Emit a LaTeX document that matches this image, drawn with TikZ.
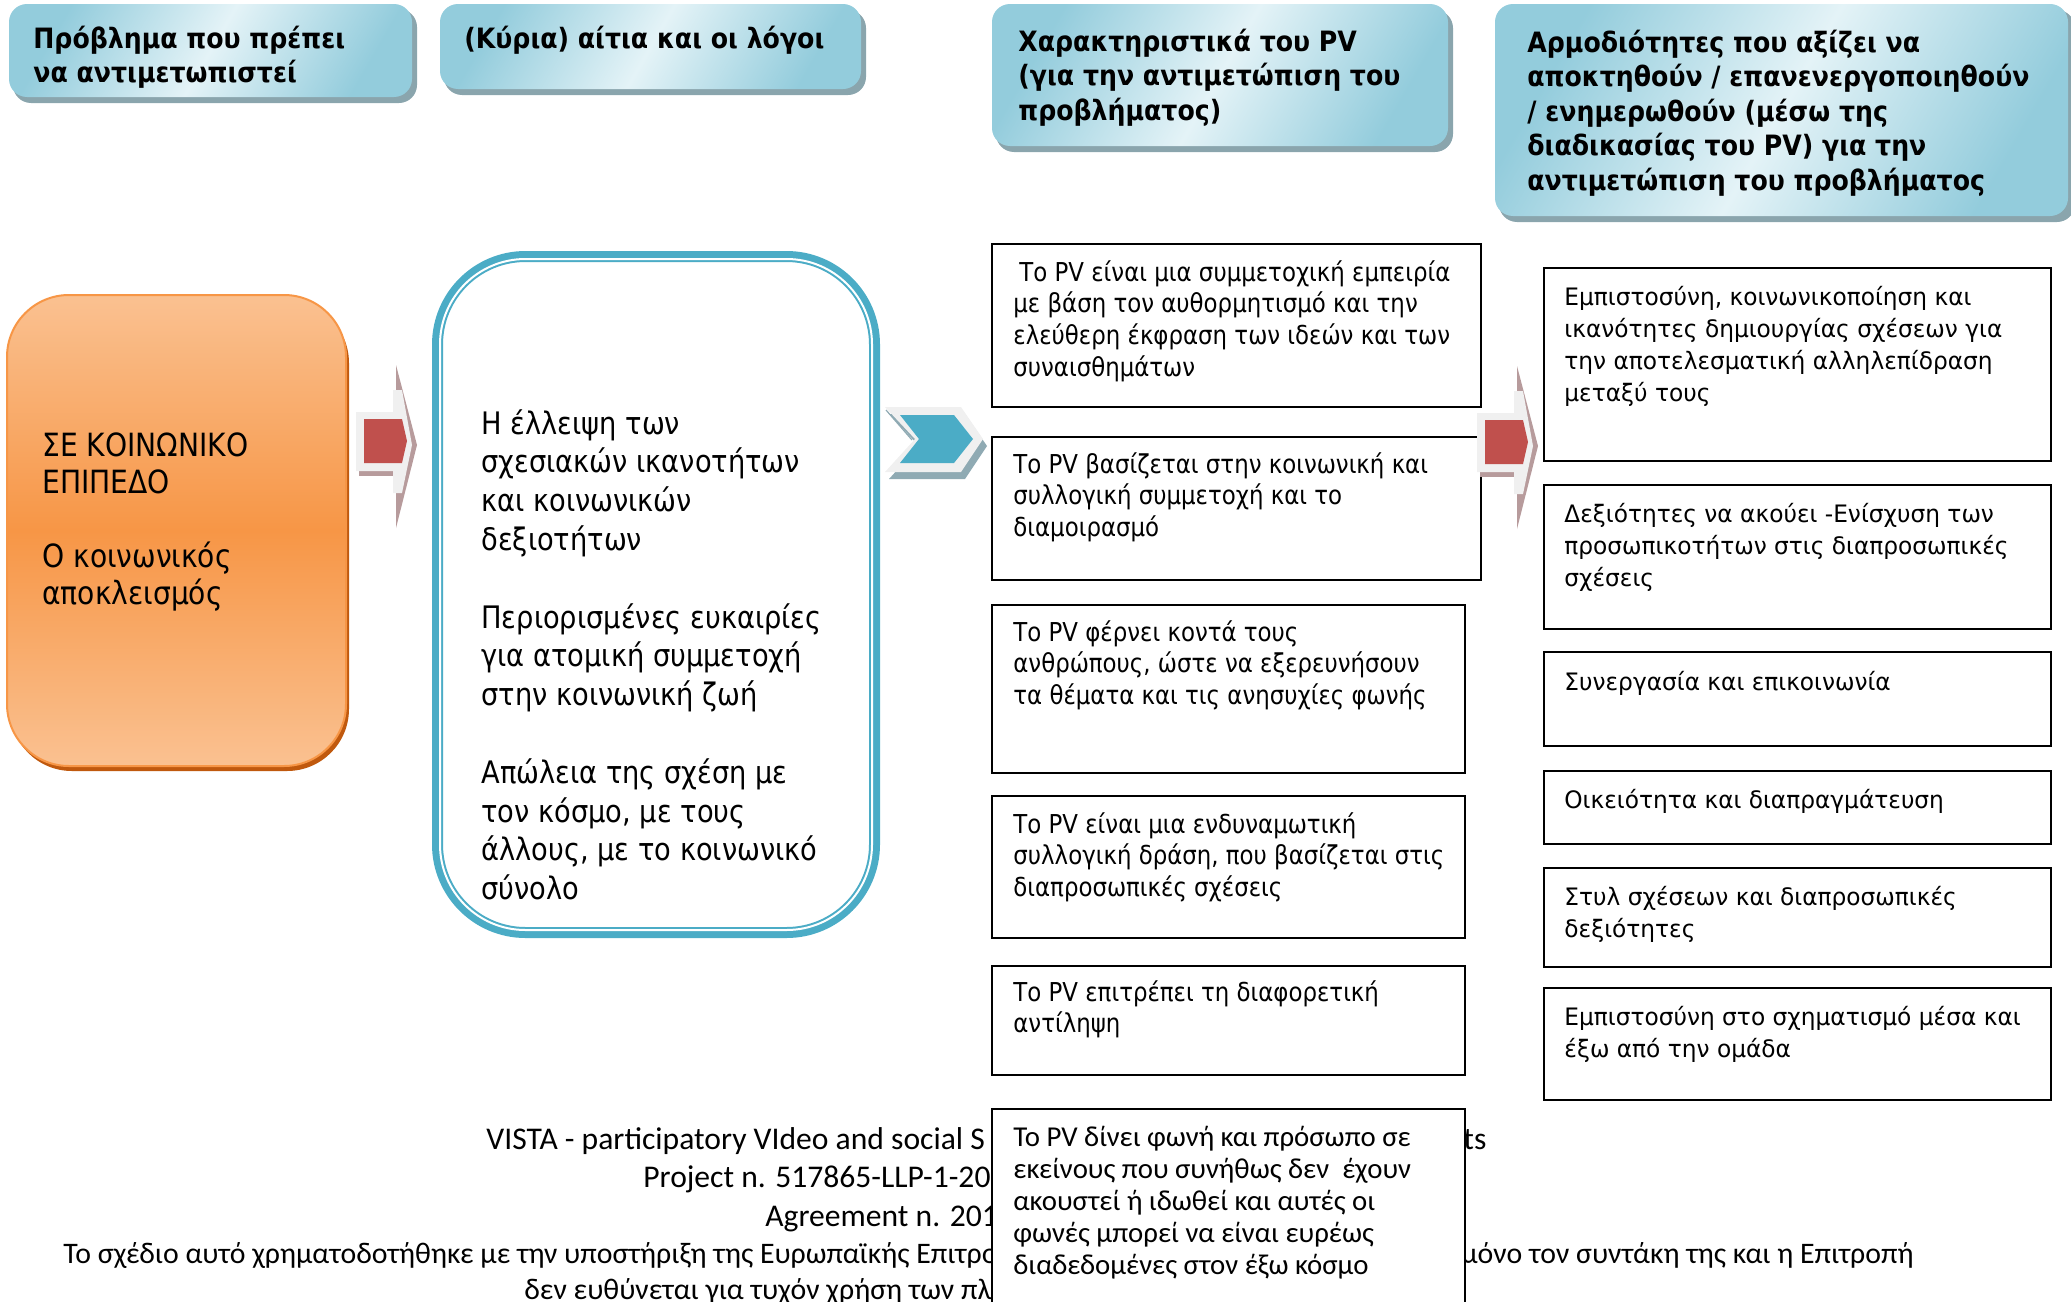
\documentclass[tikz,border=0pt]{standalone}
\usepackage{fontspec}
\setmainfont{DejaVu Sans}[FakeStretch=0.88]
\newfontfamily\hdfont{DejaVu Sans}[FakeStretch=0.9]
\newfontfamily\rcfont{DejaVu Sans}[FakeStretch=0.97]
\newfontfamily\cbfont{Carlito}
\newcommand\mlines[1]{\begin{tabular}[t]{@{}l@{}}#1\end{tabular}}
\definecolor{hdA}{HTML}{93CCDC}
\definecolor{hdB}{HTML}{E4F3F7}
\definecolor{hdS}{HTML}{8AA5AD}
\definecolor{orL}{HTML}{FAC191}
\definecolor{orD}{HTML}{F79646}
\definecolor{orS}{HTML}{C0590E}
\definecolor{teal}{HTML}{4BACC6}
\definecolor{arGray}{HTML}{F0F0F0}
\definecolor{arBrown}{HTML}{B79B9C}
\definecolor{arRed}{HTML}{C0504D}
\definecolor{chShadow}{HTML}{8FAAB3}
\begin{document}
\begin{tikzpicture}[x=0.5pt,y=-0.5pt,
  hdshadow/.style={fill=hdS, rounded corners=9pt},
  hdbox/.style={rounded corners=9pt, left color=hdA, right color=hdA, middle color=hdB, shading angle=60},
  hdtext/.style={anchor=base west, inner sep=0pt, font=\hdfont\bfseries\fontsize{14}{17.3}\selectfont},
  bigtext/.style={anchor=base west, inner sep=0pt, font=\fontsize{15.5}{19.4}\selectfont},
  pvbox/.style={draw=black, line width=1.2pt, fill=white},
  pvtext/.style={anchor=base west, inner sep=0pt, font=\fontsize{13}{15.85}\selectfont},
  pvcal/.style={anchor=base west, inner sep=0pt, font=\cbfont\fontsize{14.4}{16}\selectfont},
  rctext/.style={anchor=base west, inner sep=0pt, font=\rcfont\fontsize{12}{16}\selectfont},
  footl/.style={anchor=base west, inner sep=0pt, font=\cbfont\fontsize{15.8}{19.5}\selectfont},
  footg/.style={anchor=base west, inner sep=0pt, font=\cbfont\fontsize{14.9}{19.5}\selectfont}
]
\useasboundingbox (0,0) rectangle (2071,1301);

% ---------- header boxes ----------
\fill[hdshadow] (13,9) rectangle (417,103);
\shade[hdbox] (9,4) rectangle (412,97);
\fill[hdshadow] (444,10) rectangle (866,95);
\shade[hdbox] (440,4) rectangle (861,89);
\fill[hdshadow] (996,10) rectangle (1453,152);
\shade[hdbox] (992,4) rectangle (1448,146);
\fill[hdshadow] (1499,10) rectangle (2075,222);
\shade[hdbox] (1495,4) rectangle (2068,216);

\node[hdtext] (h1) at (33,48) {\mlines{Πρόβλημα που πρέπει\\να αντιμετωπιστεί}};
\node[hdtext] (h2) at (464,48) {(Κύρια) αίτια και οι λόγοι};
\node[hdtext] (h3) at (1018,51) {\mlines{Χαρακτηριστικά του PV\\(για την αντιμετώπιση του\\προβλήματος)}};
\node[hdtext] (h4) at (1527,52) {\mlines{Αρμοδιότητες που αξίζει να\\αποκτηθούν / επανενεργοποιηθούν\\/ ενημερωθούν (μέσω της\\διαδικασίας του PV) για την\\αντιμετώπιση του προβλήματος}};

% ---------- orange box ----------
\fill[orS, rounded corners=31pt] (10,301) rectangle (349,771);
\path[rounded corners=31pt, top color=orL, bottom color=orL, middle color=orD, draw=orD, line width=1pt] (7,295) rectangle (346,766);
\node[bigtext, font=\fontsize{16}{18.5}\selectfont] (orange) at (42,456) {\mlines{ΣΕ ΚΟΙΝΩΝΙΚΟ\\ΕΠΙΠΕΔΟ\\[18.5pt]Ο κοινωνικός\\αποκλεισμός}};

% ---------- red arrow 1 ----------
\fill[arBrown] (396,365) -- (417,445) -- (396,528) -- cycle;
\fill[arBrown] (359,470) rectangle (393,476);
\fill[arGray] (356,412) -- (393,412) -- (393,390) -- (402,390) -- (412,445) -- (402,493) -- (393,493) -- (393,471) -- (356,471) -- cycle;
\fill[arRed] (364,419) -- (402,419) -- (407,441) -- (402,463) -- (364,463) -- cycle;

% ---------- middle box ----------
\draw[teal, line width=5.5pt, rounded corners=44pt, fill=white] (437.5,256.5) rectangle (874.5,932.5);
\draw[white, line width=1pt, rounded corners=42.7pt] (440,259) rectangle (872,930);
\node[bigtext] (causes) at (481,434) {\mlines{Η έλλειψη των\\σχεσιακών ικανοτήτων\\και κοινωνικών\\δεξιοτήτων\\[19.4pt]Περιορισμένες ευκαιρίες\\για ατομική συμμετοχή\\στην κοινωνική ζωή\\[19.4pt]Απώλεια της σχέση με\\τον κόσμο, με τους\\άλλους, με το κοινωνικό\\σύνολο}};

% ---------- chevron ----------
\fill[chShadow] (889,414) -- (965,414) -- (987,446) -- (965,479) -- (889,479) -- (919,446) -- cycle;
\fill[arGray] (885,407) -- (961,407) -- (983,439) -- (961,472) -- (885,472) -- (915,439) -- cycle;
\draw[chShadow, line width=0.6pt] (886,410) -- (912,440);
\fill[teal] (900,415) -- (954,415) -- (973,439) -- (954,463) -- (900,463) -- (919,439) -- cycle;

% ---------- footer (partly hidden) ----------
\node[footl] (f1) at (486,1149) {VISTA - participatory VIdeo and social S};
\node[footl] (f1b) at (1463,1149) {ts};
\node[footl] (f2) at (643,1187) {Project n. 517865-LLP-1-20};
\node[footl] (f3) at (765,1226) {Agreement n. 201};
\node[footg] (f4) at (63,1263) {Το σχέδιο αυτό χρηματοδοτήθηκε με την υποστήριξη της Ευρωπαϊκής Επιτρο};
\node[footg] (f4b) at (1461,1263) {μόνο τον συντάκη της και η Επιτροπή};
\node[footg] (f5) at (524,1299) {δεν ευθύνεται για τυχόν χρήση των πλη};

% ---------- PV boxes ----------
\path[pvbox] (992,244) rectangle (1481,407);
\path[pvbox] (992,437) rectangle (1481,580);
\path[pvbox] (992,605) rectangle (1465,773);
\path[pvbox] (992,796) rectangle (1465,938);
\path[pvbox] (992,966) rectangle (1465,1075);
\path[pvbox] (992,1109) rectangle (1465,1320);
\node[pvtext] (p1) at (1013,281) {\mlines{\hspace{3pt}Το PV είναι μια συμμετοχική εμπειρία\\με βάση τον αυθορμητισμό και την\\ελεύθερη έκφραση των ιδεών και των\\συναισθημάτων}};
\node[pvtext] (p2) at (1013,473) {\mlines{Το PV βασίζεται στην κοινωνική και\\συλλογική συμμετοχή και το\\διαμοιρασμό}};
\node[pvtext] (p3) at (1013,641) {\mlines{Το PV φέρνει κοντά τους\\ανθρώπους, ώστε να εξερευνήσουν\\τα θέματα και τις ανησυχίες φωνής}};
\node[pvtext] (p4) at (1013,833) {\mlines{Το PV είναι μια ενδυναμωτική\\συλλογική δράση, που βασίζεται στις\\διαπροσωπικές σχέσεις}};
\node[pvtext] (p5) at (1013,1001) {\mlines{Το PV επιτρέπει τη διαφορετική\\αντίληψη}};
\node[pvcal] (p6) at (1013,1146) {\mlines{Το PV δίνει φωνή και πρόσωπο σε\\εκείνους που συνήθως δεν\ \ έχουν\\ακουστεί ή ιδωθεί και αυτές οι\\φωνές μπορεί να είναι ευρέως\\διαδεδομένες στον έξω κόσμο}};

% ---------- red arrow 2 ----------
\begin{scope}[shift={(1121,1)}]
\fill[arBrown] (396,365) -- (417,445) -- (396,528) -- cycle;
\fill[arBrown] (359,470) rectangle (393,476);
\fill[arGray] (356,412) -- (393,412) -- (393,390) -- (402,390) -- (412,445) -- (402,493) -- (393,493) -- (393,471) -- (356,471) -- cycle;
\fill[arRed] (364,419) -- (402,419) -- (407,441) -- (402,463) -- (364,463) -- cycle;
\end{scope}

% ---------- right column ----------
\path[pvbox] (1544,268) rectangle (2051,461);
\path[pvbox] (1544,485) rectangle (2051,629);
\path[pvbox] (1544,652) rectangle (2051,746);
\path[pvbox] (1544,771) rectangle (2051,844);
\path[pvbox] (1544,868) rectangle (2051,967);
\path[pvbox] (1544,988) rectangle (2051,1100);
\node[rctext] (r1) at (1564,305) {\mlines{Εμπιστοσύνη, κοινωνικοποίηση και\\ικανότητες δημιουργίας σχέσεων για\\την αποτελεσματική αλληλεπίδραση\\μεταξύ τους}};
\node[rctext] (r2) at (1564,522) {\mlines{Δεξιότητες να ακούει -Ενίσχυση των\\προσωπικοτήτων στις διαπροσωπικές\\σχέσεις}};
\node[rctext] (r3) at (1564,690) {Συνεργασία και επικοινωνία};
\node[rctext] (r4) at (1564,808) {Οικειότητα και διαπραγμάτευση};
\node[rctext] (r5) at (1564,905) {\mlines{Στυλ σχέσεων και διαπροσωπικές\\δεξιότητες}};
\node[rctext] (r6) at (1564,1025) {\mlines{Εμπιστοσύνη στο σχηματισμό μέσα και\\έξω από την ομάδα}};
\end{tikzpicture}
\end{document}
